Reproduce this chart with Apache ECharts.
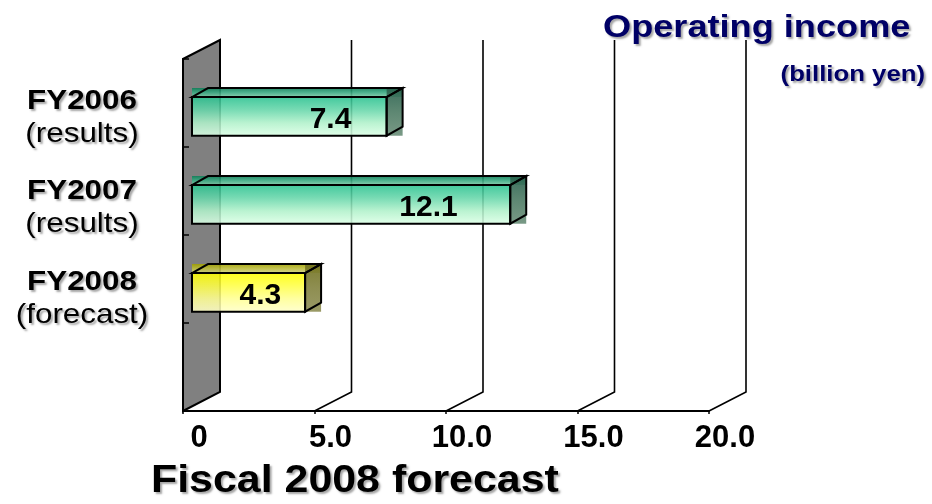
<!DOCTYPE html>
<html>
<head>
<meta charset="utf-8">
<script src="https://cdn.jsdelivr.net/npm/echarts@6/dist/echarts.min.js"></script>
<style>
  html, body { margin: 0; padding: 0; background: #fff; }
  #chart { width: 932px; height: 504px; }
</style>
</head>
<body>
<div id="chart"></div>
<script>
// Operating income by fiscal year (billion yen)
const categories = ['FY2006', 'FY2007', 'FY2008'];
const categoryNotes = ['(results)', '(results)', '(forecast)'];
const operatingIncome = [7.4, 12.1, 4.3];
const barKinds = ['results', 'results', 'forecast'];
const tickValues = [0, 5, 10, 15, 20];
const tickLabels = ['0', '5.0', '10.0', '15.0', '20.0'];

const FONT = '"Liberation Sans", Arial, Helvetica, sans-serif';
// oblique depth of the plot box (screen pixels)
const WALL = { dx: 37, dy: -19 };
// bar placement inside the box: inset from the front plane, bar depth, face size relative to band
const BAR = { inset: 9, dx: 16, dy: -9, faceTop: -0.068, faceH: 0.44 };
const PALETTE = {
  results: {
    top: ['#0e7f58', '#3aa982', '#7cc9a6'],
    side: ['#275f4b', '#4c7a63', '#6a8e78'],
    front: ['#2ac190', '#66d6aa', '#b0f1ca', '#dcffe6']
  },
  forecast: {
    top: ['#a0a000', '#bcbc3c', '#d0d080'],
    side: ['#70701c', '#82823e', '#8f8f55'],
    front: ['#ffff00', '#ffff48', '#ffff94', '#ffffc8']
  }
};

function lin(colors) {
  return {
    type: 'linear', x: 0, y: 0, x2: 0, y2: 1,
    colorStops: colors.map((c, i) => ({ offset: i / (colors.length - 1), color: c }))
  };
}

const shadow = {
  textShadowColor: 'rgba(0,0,0,0.35)',
  textShadowBlur: 2,
  textShadowOffsetX: 2,
  textShadowOffsetY: 2
};

// side wall at zero and the oblique gridlines standing on the floor
function renderFrame(params, api) {
  const cs = params.coordSys;
  const v = api.value(0);
  const x = api.coord([v, 0])[0];
  const yFloor = cs.y + cs.height;
  const yTop = cs.y;
  if (v === tickValues[0]) {
    return {
      type: 'polygon',
      shape: { points: [[x, yTop], [x + WALL.dx, yTop + WALL.dy], [x + WALL.dx, yFloor + WALL.dy], [x, yFloor]] },
      style: { fill: '#808080', stroke: '#000', lineWidth: 2 }
    };
  }
  return {
    type: 'polyline',
    shape: { points: [[x, yFloor], [x + WALL.dx, yFloor + WALL.dy], [x + WALL.dx, yTop + WALL.dy]] },
    style: { fill: 'none', stroke: '#000', lineWidth: 1.6 }
  };
}

// box-shaped bar with front, top and side faces plus its value label
function renderBar(params, api) {
  const val = api.value(0);
  const idx = api.value(1);
  const p0 = api.coord([0, idx]);
  const p1 = api.coord([val, idx]);
  const band = api.size([0, 1])[1];
  const x0 = p0[0] + BAR.inset;
  const x1 = p1[0] + BAR.inset;
  const w = x1 - x0;
  const h = band * BAR.faceH;
  const yT = p1[1] + band * BAR.faceTop;
  const yB = yT + h;
  const dx = BAR.dx, dy = BAR.dy;
  const pal = PALETTE[barKinds[params.dataIndex]];
  const outline = { fill: 'none', stroke: '#000', lineWidth: 2 };
  return {
    type: 'group',
    children: [
      { type: 'rect', shape: { x: x0, y: yT + dy, width: w + dx, height: -dy }, style: { fill: lin(pal.top), opacity: 0.9 } },
      { type: 'rect', shape: { x: x1, y: yT + dy, width: dx, height: h - dy }, style: { fill: lin(pal.side), opacity: 0.9 } },
      { type: 'rect', shape: { x: x0, y: yT, width: w, height: h }, style: { fill: lin(pal.front), opacity: 0.88 } },
      { type: 'polygon', shape: { points: [[x0, yT], [x0 + dx, yT + dy], [x1 + dx, yT + dy], [x1, yT]] }, style: outline },
      { type: 'polygon', shape: { points: [[x1, yT], [x1 + dx, yT + dy], [x1 + dx, yB + dy], [x1, yB]] }, style: outline },
      { type: 'rect', shape: { x: x0, y: yT, width: w, height: h }, style: outline },
      {
        type: 'text',
        x: x1 - (0.14 * w + 8),
        y: (yT + yB) / 2 + 3,
        style: {
          text: val.toFixed(1),
          font: 'bold 30px ' + FONT,
          fill: '#000',
          align: 'right',
          verticalAlign: 'middle'
        }
      }
    ]
  };
}

// two-line category names left of the wall
function renderCategory(params, api) {
  const idx = api.value(1);
  const cs = params.coordSys;
  const band = api.size([0, 1])[1];
  const cx = cs.x - 101;
  const cy = api.coord([0, idx])[1] + band * 0.16 + idx * 2.5;
  return {
    type: 'group',
    children: [
      {
        type: 'text', x: cx, y: cy - 16, scaleX: 1.12,
        style: Object.assign({
          text: categories[params.dataIndex], font: 'bold 28px ' + FONT,
          fill: '#000', align: 'center', verticalAlign: 'middle'
        }, shadow)
      },
      {
        type: 'text', x: cx, y: cy + 17, scaleX: 1.12,
        style: Object.assign({
          text: categoryNotes[params.dataIndex], font: '28px ' + FONT,
          fill: '#000', align: 'center', verticalAlign: 'middle'
        }, shadow)
      }
    ]
  };
}

const chart = echarts.init(document.getElementById('chart'), null, { renderer: 'canvas' });
chart.setOption({
  animation: false,
  backgroundColor: '#fff',
  grid: { left: 183, right: 223, top: 59, bottom: 93, containLabel: false },
  xAxis: {
    type: 'value', min: 0, max: 20, interval: 5, z: 5,
    axisLine: { show: true, lineStyle: { color: '#000', width: 2 } },
    axisTick: { show: true, length: 3, lineStyle: { color: '#000', width: 1.5 } },
    splitLine: { show: false },
    axisLabel: {
      show: true, margin: 11, showMinLabel: true, showMaxLabel: true,
      formatter: v => '{t|' + tickLabels[tickValues.indexOf(v)] + '}',
      rich: { t: { fontSize: 31, fontWeight: 'bold', fontFamily: FONT, color: '#000', lineHeight: 32, padding: [0, 0, 0, 32] } }
    }
  },
  yAxis: {
    type: 'category', inverse: true, z: 5,
    data: categories.concat(['']),
    axisLine: { show: true, lineStyle: { color: '#000', width: 2 } },
    axisTick: { show: true, inside: true, length: 6, lineStyle: { color: '#000', width: 1.5 } },
    axisLabel: { show: false },
    splitLine: { show: false }
  },
  graphic: [
    {
      type: 'text', x: 603, y: 28, scaleX: 1.13, z: 100,
      style: Object.assign({ text: 'Operating income', font: 'bold 32px ' + FONT, fill: '#000066', align: 'left', verticalAlign: 'middle' }, shadow)
    },
    {
      type: 'text', x: 925, y: 75, scaleX: 1.17, z: 100,
      style: Object.assign({ text: '(billion yen)', font: 'bold 22px ' + FONT, fill: '#000066', align: 'right', verticalAlign: 'middle' }, shadow)
    },
    {
      type: 'text', x: 151, y: 481, scaleX: 1.1, z: 100,
      style: Object.assign({ text: 'Fiscal 2008 forecast', font: 'bold 39px ' + FONT, fill: '#000', align: 'left', verticalAlign: 'middle' }, shadow)
    }
  ],
  series: [
    {
      name: 'frame', type: 'custom', coordinateSystem: 'cartesian2d', clip: false, z: 1, silent: true,
      renderItem: renderFrame,
      data: tickValues.map(v => [v, 0])
    },
    {
      name: 'Operating income', type: 'custom', coordinateSystem: 'cartesian2d', clip: false, z: 2,
      renderItem: renderBar,
      data: operatingIncome.map((v, i) => [v, i])
    },
    {
      name: 'categories', type: 'custom', coordinateSystem: 'cartesian2d', clip: false, z: 3, silent: true,
      renderItem: renderCategory,
      data: categories.map((c, i) => [0, i])
    }
  ]
});
</script>
</body>
</html>
